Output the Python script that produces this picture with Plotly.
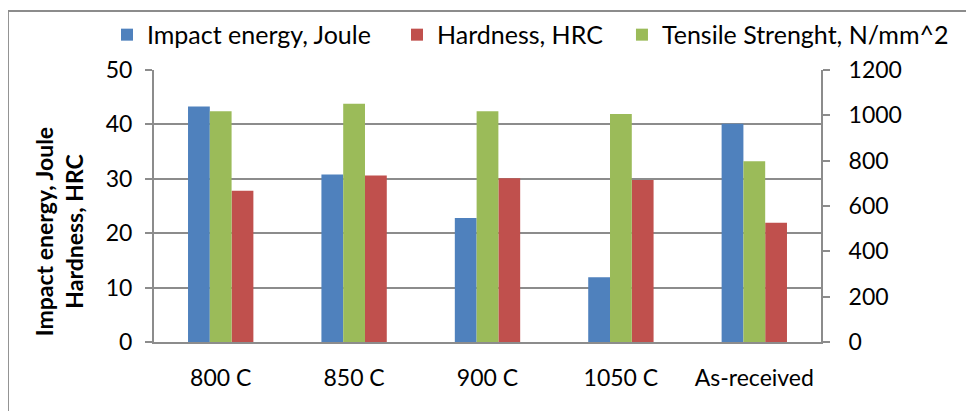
import plotly.graph_objects as go

# Data
categories = ['800 C', '850 C', '900 C', '1050 C', 'As-received']
impact_energy = [43.3, 30.8, 22.8, 11.9, 40.1]      # Joule (left axis)
hardness = [27.8, 30.6, 30.1, 29.8, 21.9]           # HRC (left axis)
tensile = [1018, 1051, 1018, 1006, 797]             # N/mm^2 (right axis)

left_ticks = [0, 10, 20, 30, 40, 50]
right_ticks = [0, 200, 400, 600, 800, 1000, 1200]

COLORS = {
    'impact': '#4F81BD',
    'hardness': '#C0504D',
    'tensile': '#9BBB59',
}
FONT = 'Lato, Open Sans, sans-serif'
GRID = '#8c8c8c'

fig = go.Figure()

# Excel-style order inside each group: blue, green, red
fig.add_trace(go.Bar(
    x=categories, y=impact_energy, name='Impact energy, Joule',
    marker=dict(color=COLORS['impact'], line=dict(width=0)),
    offsetgroup='a', legend='legend', yaxis='y'
))
fig.add_trace(go.Bar(
    x=categories, y=tensile, name='Tensile Strenght, N/mm^2',
    marker=dict(color=COLORS['tensile'], line=dict(width=0)),
    offsetgroup='b', legend='legend3', yaxis='y2'
))
fig.add_trace(go.Bar(
    x=categories, y=hardness, name='Hardness, HRC',
    marker=dict(color=COLORS['hardness'], line=dict(width=0)),
    offsetgroup='c', legend='legend2', yaxis='y'
))

# one legend box per entry so each item sits where Excel put it
legend_common = dict(
    orientation='h', xanchor='left', y=1.129, yanchor='middle',
    font=dict(size=25), bgcolor='rgba(0,0,0,0)',
)

fig.update_layout(
    width=974,
    height=411,
    # page body adds an 8px offset, so margins are shifted to compensate
    margin=dict(l=146, r=161, t=62, b=77, autoexpand=False),
    paper_bgcolor='white',
    plot_bgcolor='white',
    font=dict(family=FONT, size=23, color='#000000'),
    barmode='group',
    bargap=0.51,
    bargroupgap=0,
    showlegend=True,
    legend=dict(x=-0.0705, **legend_common),
    legend2=dict(x=0.3643, **legend_common),
    legend3=dict(x=0.7016, **legend_common),
    xaxis=dict(
        showgrid=False,
        showline=True, linecolor=GRID, linewidth=2,
        ticks='', tickfont=dict(size=23),
        ticklabelstandoff=14,
        automargin=False,
    ),
    yaxis=dict(
        range=[0, 50],
        tickvals=left_ticks,
        showgrid=True, gridcolor=GRID, gridwidth=1.5,
        showline=True, linecolor=GRID, linewidth=2,
        ticks='outside', ticklen=7, tickcolor=GRID, tickwidth=1.5,
        zeroline=False,
        tickfont=dict(size=23),
        ticklabelstandoff=8,
        automargin=False,
    ),
    yaxis2=dict(
        range=[0, 1200],
        tickvals=right_ticks,
        overlaying='y', side='right',
        showgrid=False,
        showline=True, linecolor=GRID, linewidth=2,
        ticks='outside', ticklen=7, tickcolor=GRID, tickwidth=1.5,
        zeroline=False,
        tickfont=dict(size=23),
        ticklabelstandoff=14,
        automargin=False,
    ),
    annotations=[
        # left axis title sits a bit below the plot centre in the original
        dict(text='<b>Impact energy, Joule<br>Hardness, HRC</b>',
             xref='paper', yref='paper', x=-0.1424, y=0.404,
             xanchor='center', yanchor='middle', textangle=-90,
             showarrow=False, font=dict(size=23)),
    ],
    shapes=[
        dict(type='rect', xref='paper', yref='paper',
             x0=-0.219, x1=1.3, y0=-0.4, y1=1.217,
             line=dict(color='#8c8c8c', width=2), fillcolor='rgba(0,0,0,0)',
             layer='below'),
    ],
)

fig.write_html('out.html')
